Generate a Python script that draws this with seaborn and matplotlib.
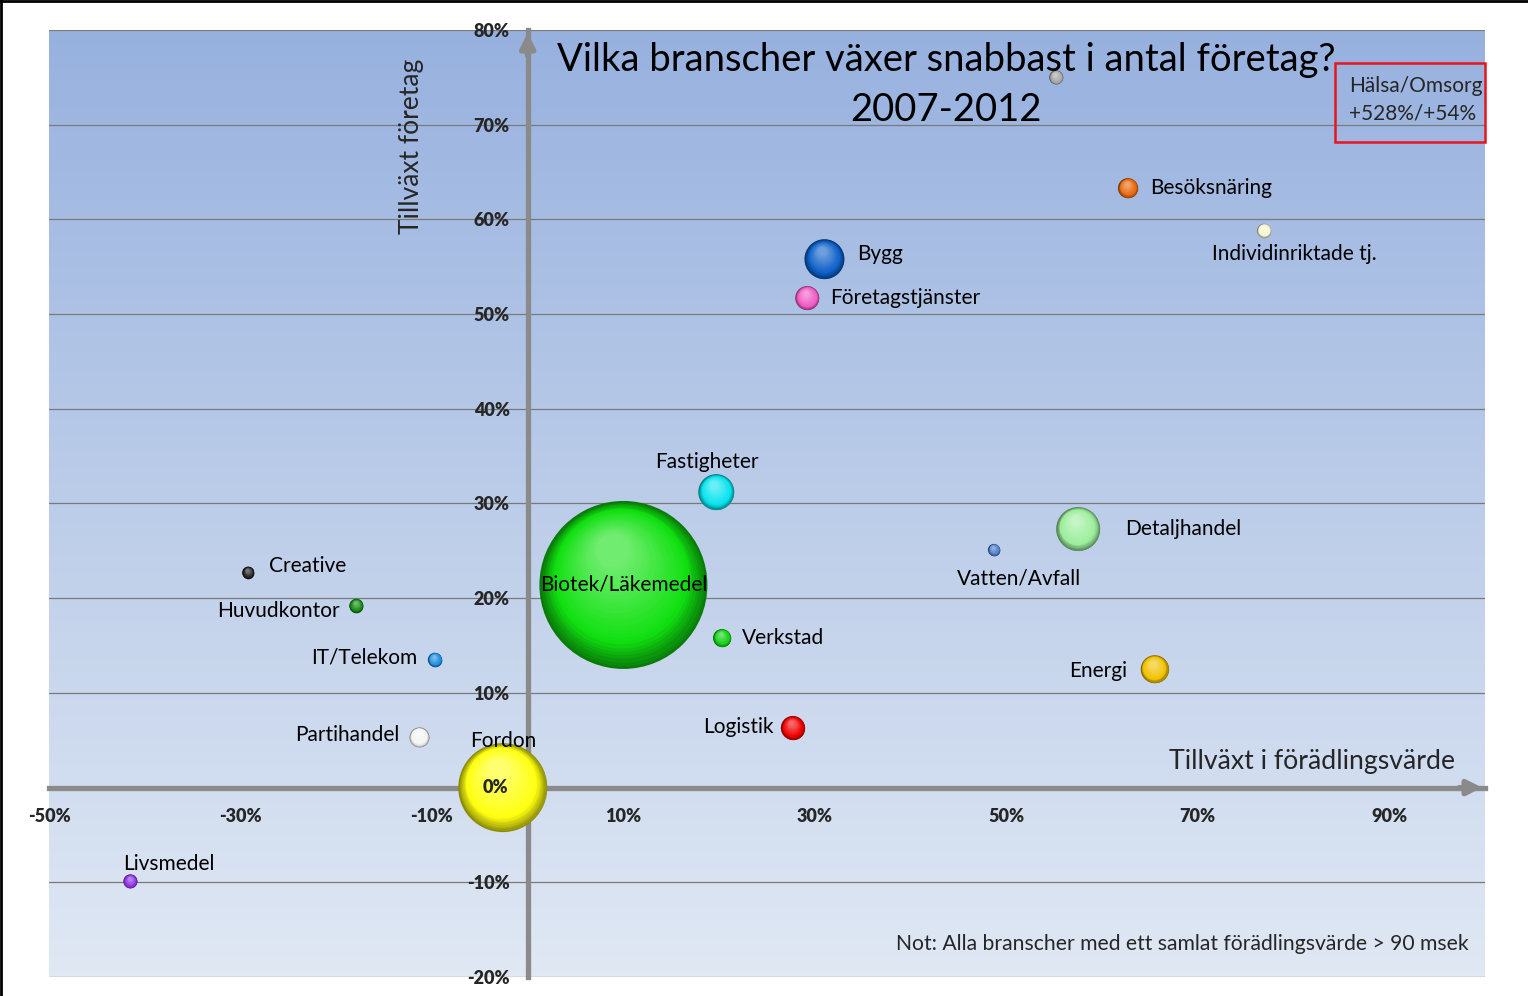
import numpy as np
import pandas as pd
import matplotlib
matplotlib.use("Agg")
import matplotlib.pyplot as plt
import matplotlib.transforms as mtransforms
from matplotlib.colors import to_rgb, LinearSegmentedColormap
from matplotlib.patches import Rectangle
from matplotlib.lines import Line2D
import seaborn as sns

# Data
branscher = ["Hälsa/Omsorg", "Besöksnäring", "Individinriktade tj.", "Bygg",
             "Företagstjänster", "Fastigheter", "Detaljhandel", "Vatten/Avfall",
             "Biotek/Läkemedel", "Verkstad", "Energi", "Logistik", "Fordon",
             "Creative", "Huvudkontor", "IT/Telekom", "Partihandel", "Livsmedel"]
tillvaxt_foradling = [55.2, 62.7, 76.9, 31.0, 29.2, 19.7, 57.5, 48.7, 10.0,
                      20.3, 65.5, 27.7, -2.6, -29.2, -17.9, -9.7, -11.3, -41.5]
tillvaxt_foretag = [75.0, 63.3, 58.8, 55.8, 51.7, 31.2, 27.3, 25.1, 21.4,
                    15.8, 12.5, 6.3, 0.0, 22.7, 19.2, 13.5, 5.3, -9.9]
storlek = [49, 100, 49, 400, 144, 324, 484, 36, 7056,
           81, 196, 144, 1980, 36, 49, 49, 100, 49]
farger = ["#a6a6a6", "#e8680c", "#f6f6d0", "#0c5fc8", "#f05cc4", "#08e4ee",
          "#9cee9c", "#4a7ec8", "#10e010", "#10d010", "#f2c200", "#f00000",
          "#ffff10", "#202020", "#128a12", "#1e8ee0", "#f4f4f4", "#8a30e0"]

x_ticks = [-50, -30, -10, 10, 30, 50, 70, 90]
y_ticks = [-20, -10, 10, 20, 30, 40, 50, 60, 70, 80]

df = pd.DataFrame({"bransch": branscher, "x": tillvaxt_foradling,
                   "y": tillvaxt_foretag, "storlek": storlek})

# etikettplacering: (dx, dy i punkter, ha)
etiketter = {
    "Besöksnäring": (15.8, 0, "left"),
    "Individinriktade tj.": (21.6, -16.6, "center"),
    "Bygg": (23.8, 3.6, "left"),
    "Företagstjänster": (16.6, 0, "left"),
    "Fastigheter": (-6.5, 21.6, "center"),
    "Detaljhandel": (33.8, 0, "left"),
    "Vatten/Avfall": (18, -20.9, "center"),
    "Biotek/Läkemedel": (0, 0, "center"),
    "Verkstad": (14.4, 0, "left"),
    "Energi": (-20.2, -1.4, "right"),
    "Logistik": (-13.7, 0.7, "right"),
    "Fordon": (0, 33.8, "center"),
    "Creative": (15.1, 5, "left"),
    "Huvudkontor": (-12.2, -3.6, "right"),
    "IT/Telekom": (-12.2, 1.4, "right"),
    "Partihandel": (-14.4, 1.4, "right"),
    "Livsmedel": (-5, 12.2, "left"),
}

sns.set_style("white")
plt.rcParams["font.family"] = ["Lato", "DejaVu Sans"]

fig = plt.figure(figsize=(15.28, 9.96), dpi=100, facecolor="white")
ax = fig.add_axes([49 / 1528, 1 - 977 / 996, 1436 / 1528, 947 / 996])

# bakgrundsgradient
bg = LinearSegmentedColormap.from_list("bg", ["#e0e8f4", "#bccde9", "#97b1df"])
ax.imshow(np.linspace(0, 1, 256).reshape(-1, 1), extent=[-50, 100, -20, 80],
          aspect="auto", cmap=bg, origin="lower", zorder=-1)

# bubblor: basytan (mörk kant) med seaborn
vmax = max(storlek)
smax = 2.0736 * vmax
rim = {b: tuple(np.array(to_rgb(c)) * 0.55) for b, c in zip(branscher, farger)}
sns.scatterplot(data=df, x="x", y="y", hue="bransch", palette=rim,
                size="storlek", sizes=(0, smax), size_norm=(0, vmax),
                legend=False, edgecolor="none", linewidth=0, ax=ax, zorder=3)

# 3D-skuggning
lager = 30
z = 3.0
for xi, yi, v, c in zip(tillvaxt_foradling, tillvaxt_foretag, storlek, farger):
    r = np.sqrt(v * smax / vmax) / 2
    base = np.array(to_rgb(c))
    for i in range(1, lager):
        t = i / (lager - 1)
        f = 1 - 0.8 * t
        if t < 0.25:
            col = base * (0.55 + 0.45 * t / 0.25)
        else:
            col = base + (1 - base) * 0.4 * (t - 0.25) / 0.75
        d = 0.55 * (1 - f) * r
        tr = mtransforms.offset_copy(ax.transData, fig=fig, x=-0.3 * d,
                                     y=0.95 * d, units="points")
        z += 0.001
        ax.scatter([xi], [yi], s=(2 * f * r) ** 2, color=np.clip(col, 0, 1),
                   transform=tr, linewidths=0, zorder=z)

for b, xi, yi in zip(branscher, tillvaxt_foradling, tillvaxt_foretag):
    if b not in etiketter:
        continue
    dx, dy, ha = etiketter[b]
    ax.annotate(b, (xi, yi), xytext=(dx, dy), textcoords="offset points",
                ha=ha, va="center", fontsize=15, color="black", zorder=10)

# axlar genom origo
ax.set_xlim(-50, 100)
ax.set_ylim(-20, 80)
for s in ["top", "right"]:
    ax.spines[s].set_visible(False)
for s in ["left", "bottom"]:
    ax.spines[s].set_position(("data", 0))
    ax.spines[s].set_color("#8a8a8a")
    ax.spines[s].set_linewidth(3.8)
    ax.spines[s].set_zorder(2.5)
ax.set_xticks(x_ticks, labels=[f"{t}%" for t in x_ticks], fontweight="heavy")
ax.set_yticks(y_ticks, labels=[f"{t}%" for t in y_ticks], fontweight="heavy")
ax.tick_params(axis="both", direction="out", length=3, width=3.5,
               color="#8a8a8a", labelsize=13, pad=10)
ax.tick_params(axis="x", pad=12)
ax.set_xlabel("")
ax.set_ylabel("")
ax.yaxis.grid(True, color="#7a7a7a", lw=0.9)
ax.xaxis.grid(False)
ax.set_axisbelow(True)

ax.annotate("", xy=(0, 80), xytext=(0, 77),
            arrowprops=dict(arrowstyle="-|>", color="#8a8a8a", lw=3.8,
                            mutation_scale=22), zorder=2.6)
ax.annotate("", xy=(100, 0), xytext=(97, 0),
            arrowprops=dict(arrowstyle="-|>", color="#8a8a8a", lw=3.8,
                            mutation_scale=22), zorder=2.6)

# 0%-etiketten ligger ovanpå Fordon-bubblan
ax.annotate("0%", (0, 0), xytext=(-14, 0), textcoords="offset points",
            ha="right", va="center", fontsize=13, fontweight="heavy", zorder=10)

# texter
fig.text(946 / 1528, 1 - 85 / 996,
         "Vilka branscher växer snabbast i antal företag?\n2007-2012",
         ha="center", va="center", fontsize=27.5, linespacing=1.5,
         color="black")
fig.text(412 / 1528, 1 - 146 / 996, "Tillväxt företag", rotation=90,
         ha="center", va="center", fontsize=19)
fig.text(1455 / 1528, 1 - 762 / 996, "Tillväxt i förädlingsvärde",
         ha="right", va="center", fontsize=19.2)
fig.text(1469 / 1528, 1 - 944 / 996,
         "Not: Alla branscher med ett samlat förädlingsvärde > 90 msek",
         ha="right", va="center", fontsize=15.2)

fig.add_artist(Rectangle((1335 / 1528, 1 - 142 / 996), 150 / 1528, 79 / 996,
                         transform=fig.transFigure, fill=False,
                         edgecolor="#e8141e", lw=1.8, zorder=20))
fig.text(1349 / 1528, 1 - 86 / 996, "Hälsa/Omsorg", ha="left", va="center",
         fontsize=15)
fig.text(1349 / 1528, 1 - 114 / 996, "+528%/+54%", ha="left", va="center",
         fontsize=15)

fig.add_artist(Line2D([0, 1], [0.999, 0.999], transform=fig.transFigure,
                      color="black", lw=2))
fig.add_artist(Line2D([0.0006, 0.0006], [0, 1], transform=fig.transFigure,
                      color="black", lw=2))

fig.savefig("out.png", dpi=100, facecolor="white")
